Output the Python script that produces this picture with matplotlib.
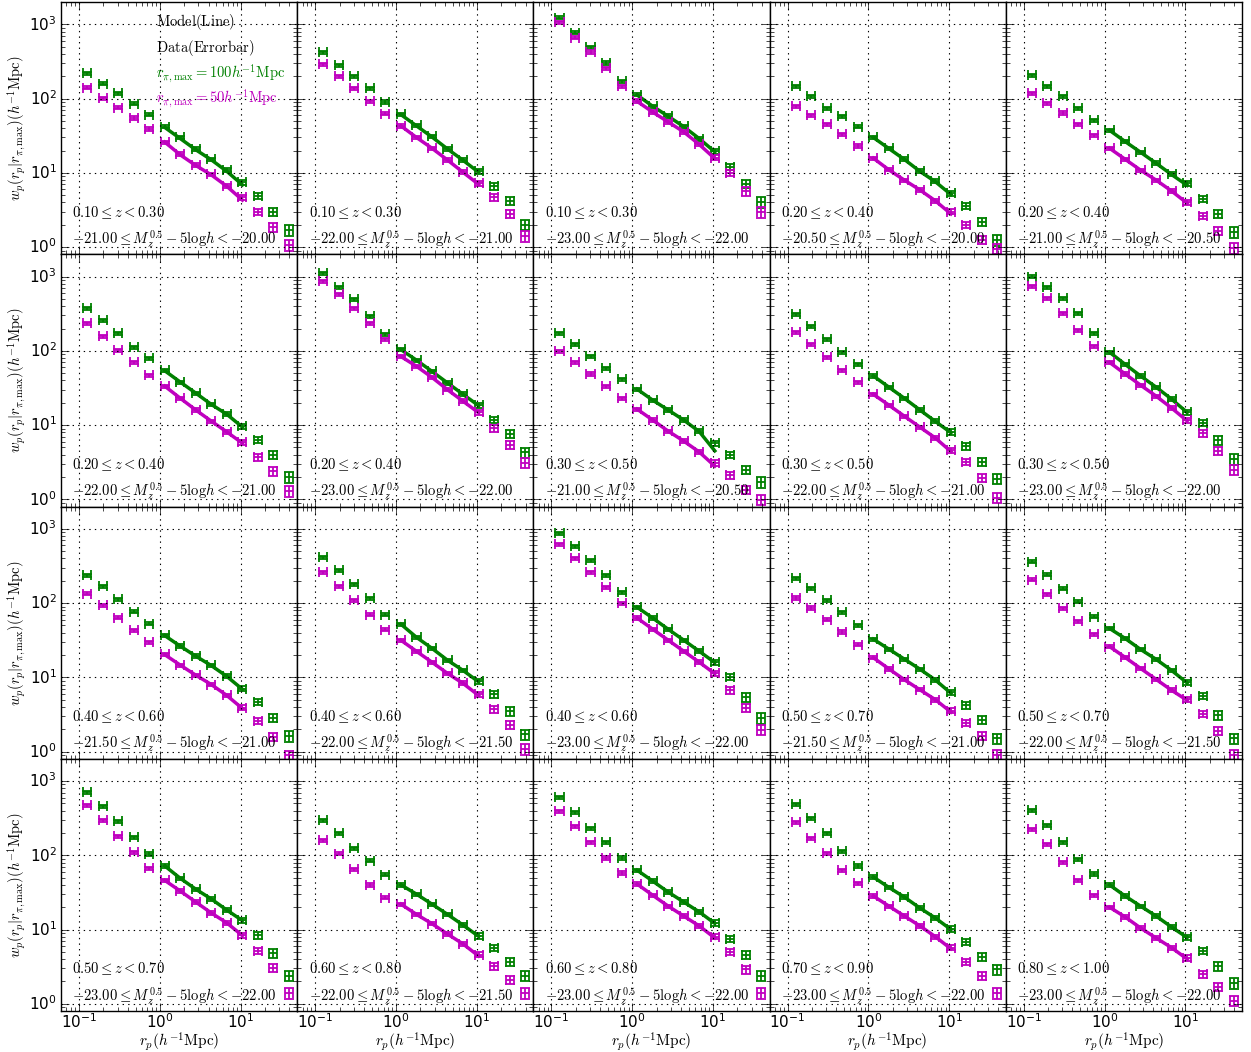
import numpy as np
import matplotlib
matplotlib.use('Agg')
import matplotlib.pyplot as plt

plt.style.use('classic')
plt.rcParams['mathtext.fontset'] = 'cm'

# projected separation bins (h^-1 Mpc)
rp = [0.126, 0.196, 0.305, 0.474, 0.738, 1.15, 1.79, 2.78, 4.33, 6.73, 10.5, 16.3, 25.4, 39.4]
err_frac = [0.05, 0.05, 0.05, 0.05, 0.05, 0.05, 0.05, 0.05, 0.05, 0.06, 0.08, 0.10, 0.13, 0.16]
model_idx = [5, 6, 7, 8, 9, 10]

z_labels = ['0.10', '0.30'], ['0.10', '0.30'], ['0.10', '0.30'], ['0.20', '0.40'], ['0.20', '0.40'], \
           ['0.20', '0.40'], ['0.20', '0.40'], ['0.30', '0.50'], ['0.30', '0.50'], ['0.30', '0.50'], \
           ['0.40', '0.60'], ['0.40', '0.60'], ['0.40', '0.60'], ['0.50', '0.70'], ['0.50', '0.70'], \
           ['0.50', '0.70'], ['0.60', '0.80'], ['0.60', '0.80'], ['0.70', '0.90'], ['0.80', '1.00']
mag_labels = ['-21.00', '-20.00'], ['-22.00', '-21.00'], ['-23.00', '-22.00'], ['-20.50', '-20.00'], ['-21.00', '-20.50'], \
             ['-22.00', '-21.00'], ['-23.00', '-22.00'], ['-21.00', '-20.50'], ['-22.00', '-21.00'], ['-23.00', '-22.00'], \
             ['-21.50', '-21.00'], ['-22.00', '-21.50'], ['-23.00', '-22.00'], ['-21.50', '-21.00'], ['-22.00', '-21.50'], \
             ['-23.00', '-22.00'], ['-22.00', '-21.50'], ['-23.00', '-22.00'], ['-23.00', '-22.00'], ['-23.00', '-22.00']

# data, r_pi,max = 100 h^-1 Mpc
wp100 = [
    [221, 160, 118, 86, 61, 42, 30, 21, 15.3, 11, 7.5, 4.9, 3.0, 1.7],
    [421, 281, 200, 138, 90, 62, 44, 31, 21, 15, 10.5, 6.6, 4.2, 2.0],
    [1230, 773, 495, 302, 171, 113, 79, 58.5, 42.6, 29, 19.6, 12.1, 7.1, 4.06],
    [147, 107, 74, 58, 42, 30, 21.5, 15.4, 10.6, 7.7, 5.3, 3.6, 2.2, 1.25],
    [207, 147, 108, 74, 51, 37.6, 26.7, 19, 13.6, 9.6, 7.2, 4.5, 2.8, 1.6],
    [375, 259, 173, 112, 80, 55, 38, 27, 19.2, 14.1, 9.7, 6.3, 4.0, 2.0],
    [1107, 718, 495, 293, 168, 105, 75, 53, 37, 26, 18.6, 11.7, 7.6, 4.3],
    [173, 123, 85, 58.5, 41.6, 30.5, 21.7, 16, 11.7, 8.3, 5.7, 4.0, 2.5, 1.7],
    [311, 215, 144, 96, 66, 46, 32.5, 23, 16, 11.3, 8.1, 5.2, 3.2, 1.9],
    [1000, 718, 510, 321, 173, 96, 66, 46, 32.5, 22.4, 15, 10.7, 6.3, 3.5],
    [238, 168, 113, 77, 53, 36.7, 26.4, 19.4, 14.5, 10.4, 7.05, 4.7, 2.87, 1.62],
    [412, 275, 179, 116, 70, 52, 34.6, 24.6, 17, 12.4, 8.9, 5.9, 3.5, 1.7],
    [870, 582, 378, 237, 140, 88, 63, 44.5, 31.7, 22.5, 16, 10.1, 5.4, 2.84],
    [216, 158, 109, 75, 50, 32.7, 24, 17.6, 12.9, 9.2, 6.3, 4.2, 2.7, 1.5],
    [363, 242, 157, 105, 66, 45.6, 33.5, 23.8, 17.5, 12.4, 8.6, 5.6, 3.1, 1.5],
    [708, 458, 288, 176, 104, 72, 49, 35, 25.8, 18.3, 13.4, 8.4, 4.8, 2.4],
    [297, 199, 125, 85, 55, 40, 30, 22, 16, 11.5, 8.2, 5.7, 3.7, 2.4],
    [605, 381, 232, 150, 92, 63, 45, 32, 23.5, 17.3, 12.3, 7.5, 4.6, 2.4],
    [487, 316, 199, 114, 72, 51, 37, 27.4, 19.5, 14.3, 10.2, 6.8, 4.3, 2.9],
    [405, 255, 150, 89, 56, 40, 28.3, 20.7, 15.2, 10.8, 7.9, 5.2, 3.2, 1.9],
]
# data, r_pi,max = 50 h^-1 Mpc
wp50 = [
    [141, 101, 76, 55, 39, 26, 18, 12.8, 9.6, 6.7, 4.7, 3.0, 1.85, 1.07],
    [290, 200, 138, 92, 63, 43, 30, 21.5, 14.9, 10.2, 7.3, 4.7, 2.8, 1.4],
    [1063, 662, 425, 256, 147, 93, 66, 48.6, 35.7, 24.2, 16, 10, 5.7, 2.97],
    [79, 60, 45, 33, 23, 15.8, 11, 8, 5.9, 4.2, 3.0, 2.0, 1.25, 0.95],
    [118, 87, 64, 45, 32, 21.5, 15.3, 10.9, 8.0, 5.7, 4.0, 2.65, 1.65, 0.97],
    [236, 158, 102, 70, 47, 33.5, 23, 16, 11.3, 8.1, 5.9, 3.7, 2.4, 1.3],
    [865, 578, 375, 236, 144, 85, 62, 44, 30, 21, 15, 9.1, 5.4, 3.1],
    [99, 70, 49, 33.5, 23, 16.4, 11.7, 8.3, 6.1, 4.35, 3.1, 2.1, 1.34, 0.99],
    [178, 123, 82, 55, 38, 26, 18.6, 13.2, 9.4, 6.7, 4.6, 3.2, 1.95, 1.05],
    [741, 510, 321, 190, 116, 70, 49, 34.6, 24.6, 17, 11.7, 7.8, 4.5, 2.5],
    [134, 94, 63.5, 42.8, 29.6, 20.4, 14.6, 10.7, 8.0, 5.7, 3.9, 2.6, 1.59, 0.89],
    [259, 168, 109, 70, 44, 31.6, 22.4, 16, 11.3, 8.3, 5.9, 3.7, 2.3, 1.08],
    [620, 402, 261, 164, 100, 63, 44.5, 31.7, 22.5, 16, 11.4, 6.7, 3.9, 1.96],
    [117, 86, 60, 41, 27.4, 18.4, 13, 9.3, 6.8, 5.0, 3.55, 2.45, 1.64, 0.91],
    [208, 131, 85, 57, 38, 26, 18.6, 13.2, 9.4, 6.7, 5.1, 3.2, 1.9, 0.9],
    [473, 297, 181, 110, 67, 46, 33, 23.5, 16.7, 12.3, 8.4, 5.2, 3.05, 1.4],
    [160, 105, 65, 40, 27, 22, 16, 12, 8.7, 6.4, 4.6, 3.2, 2.1, 1.4],
    [393, 247, 150, 92, 58, 41, 29, 20.7, 15.2, 11.2, 8.0, 5.0, 2.9, 1.4],
    [279, 170, 107, 63, 42, 28.3, 20.7, 15.2, 11.2, 8.0, 5.7, 3.7, 2.4, 1.4],
    [225, 141, 81, 46, 29, 20, 14.8, 10.5, 7.7, 5.7, 4.15, 2.5, 1.7, 1.1],
]
# model (line), evaluated at rp[5:11]
model100 = [
    [41, 29, 20.5, 15, 10.5, 6.9],
    [61, 43, 30.5, 21, 14.8, 10.2],
    [112, 79, 58, 42, 29, 19.2],
    [30, 21.3, 15.2, 10.5, 7.6, 5.1],
    [37.5, 26.5, 19, 13.5, 9.5, 6.8],
    [54, 38, 27, 19, 14, 9.4],
    [104, 75, 53, 37, 26, 18.3],
    [30.5, 21.7, 16, 11.7, 8.2, 4.5],
    [46, 32.5, 23, 16, 11.2, 7.9],
    [96, 66, 46, 32.5, 22.4, 14.8],
    [36.5, 26.3, 19.3, 14.4, 10.3, 6.9],
    [52, 34.6, 24.6, 17, 12.4, 8.7],
    [88, 63, 44.5, 31.7, 22.5, 15.8],
    [32.7, 24, 17.6, 12.9, 9.2, 6.1],
    [45.6, 33.5, 23.8, 17.5, 12.4, 8.4],
    [72, 49, 35, 25.8, 18.3, 13.2],
    [40, 30, 22, 16, 11.5, 8.1],
    [63, 45, 32, 23.5, 17.3, 12.1],
    [51, 37, 27.4, 19.5, 14.3, 10],
    [40, 28.3, 20.7, 15.2, 10.8, 7.8],
]
model50 = [
    [26, 17.5, 12.6, 9.4, 6.6, 4.3],
    [43, 30, 21.5, 14.9, 10.2, 7.0],
    [92, 66, 48.6, 35.7, 24.2, 15.6],
    [15.8, 11, 8, 5.9, 4.2, 2.8],
    [21.5, 15.3, 10.9, 8.0, 5.7, 3.9],
    [33.5, 23, 16, 11.3, 8.1, 5.7],
    [84, 62, 44, 30, 21, 14.7],
    [16.4, 11.7, 8.3, 6.1, 4.35, 2.8],
    [26, 18.6, 13.2, 9.4, 6.7, 4.4],
    [70, 49, 34.6, 24.6, 17, 11.4],
    [20.2, 14.6, 10.7, 8.0, 5.7, 3.8],
    [31.6, 22.4, 16, 11.3, 8.3, 5.7],
    [63, 44.5, 31.7, 22.5, 16, 11.2],
    [18.4, 13, 9.3, 6.8, 5.0, 3.4],
    [26, 18.6, 13.2, 9.4, 6.7, 4.9],
    [46, 33, 23.5, 16.7, 12.3, 8.3],
    [22, 16, 12, 8.7, 6.4, 4.4],
    [41, 29, 20.7, 15.2, 11.2, 7.7],
    [28.3, 20.7, 15.2, 11.2, 8.0, 5.5],
    [20, 14.8, 10.5, 7.7, 5.7, 4.0],
]

nrow, ncol = 4, 5
fig, axes = plt.subplots(nrow, ncol, figsize=(12.51, 10.52), dpi=100, sharex=True, sharey=True)
fig.patch.set_facecolor('white')
fig.subplots_adjust(left=0.0488, right=0.9928, top=0.998, bottom=0.039, wspace=0, hspace=0)

rp_arr = np.array(rp)
dx = [rp_arr * (1 - 10 ** -0.05), rp_arr * (10 ** 0.05 - 1)]
rp_model = [rp[i] for i in model_idx]

for k in range(nrow * ncol):
    ax = axes[k // ncol, k % ncol]
    ax.set_xscale('log')
    ax.set_yscale('log')
    for wp, mod, col in [(wp100[k], model100[k], 'g'), (wp50[k], model50[k], 'm')]:
        wp = np.array(wp)
        ax.errorbar(rp, wp, yerr=wp * np.array(err_frac), xerr=dx, fmt='none', ecolor=col,
                    elinewidth=1.3, capsize=3.5, capthick=1.3)
        ax.plot(rp_model, mod, '-', color=col, lw=2.5)
    ax.set_xlim(0.06, 50)
    ax.set_ylim(0.8, 2000)
    ax.grid(True, which='major', linestyle=':', color='k', lw=0.8)
    ax.tick_params(which='major', direction='in', length=6, labelsize=11)
    ax.tick_params(axis='x', which='major', pad=1)
    ax.tick_params(axis='y', which='major', pad=3)
    ax.tick_params(which='minor', direction='in', length=3)
    ax.text(0.048, 0.167, r'$%s\leq z<%s$' % tuple(z_labels[k]), transform=ax.transAxes,
            fontsize=10.5, va='center', ha='left')
    ax.text(0.048, 0.06, r'$%s\leq M_z^{0.5}-5\mathrm{log}h<%s$' % tuple(mag_labels[k]), transform=ax.transAxes,
            fontsize=10.5, va='center', ha='left')
    if k % ncol == 0:
        ax.set_ylabel(r'$w_p(r_p|r_{\pi,\mathrm{max}})(h^{-1}\mathrm{Mpc})$', fontsize=10.5)
        ax.yaxis.set_label_coords(-0.145, 0.5)
    if k // ncol == nrow - 1:
        ax.set_xlabel(r'$r_p(h^{-1}\mathrm{Mpc})$', fontsize=11)
        ax.xaxis.set_label_coords(0.5, -0.078)

ax = axes[0, 0]
ax.text(0.40, 0.921, r'$\mathrm{Model(Line)}$', transform=ax.transAxes, fontsize=10.5, va='center')
ax.text(0.40, 0.817, r'$\mathrm{Data(Errorbar)}$', transform=ax.transAxes, fontsize=10.5, va='center')
ax.text(0.40, 0.718, r'$r_{\pi,\mathrm{max}}=100h^{-1}\mathrm{Mpc}$', transform=ax.transAxes,
        fontsize=10.5, va='center', color='g')
ax.text(0.40, 0.619, r'$r_{\pi,\mathrm{max}}=50h^{-1}\mathrm{Mpc}$', transform=ax.transAxes,
        fontsize=10.5, va='center', color='m')

fig.savefig('out.png', dpi=100, facecolor='white')
